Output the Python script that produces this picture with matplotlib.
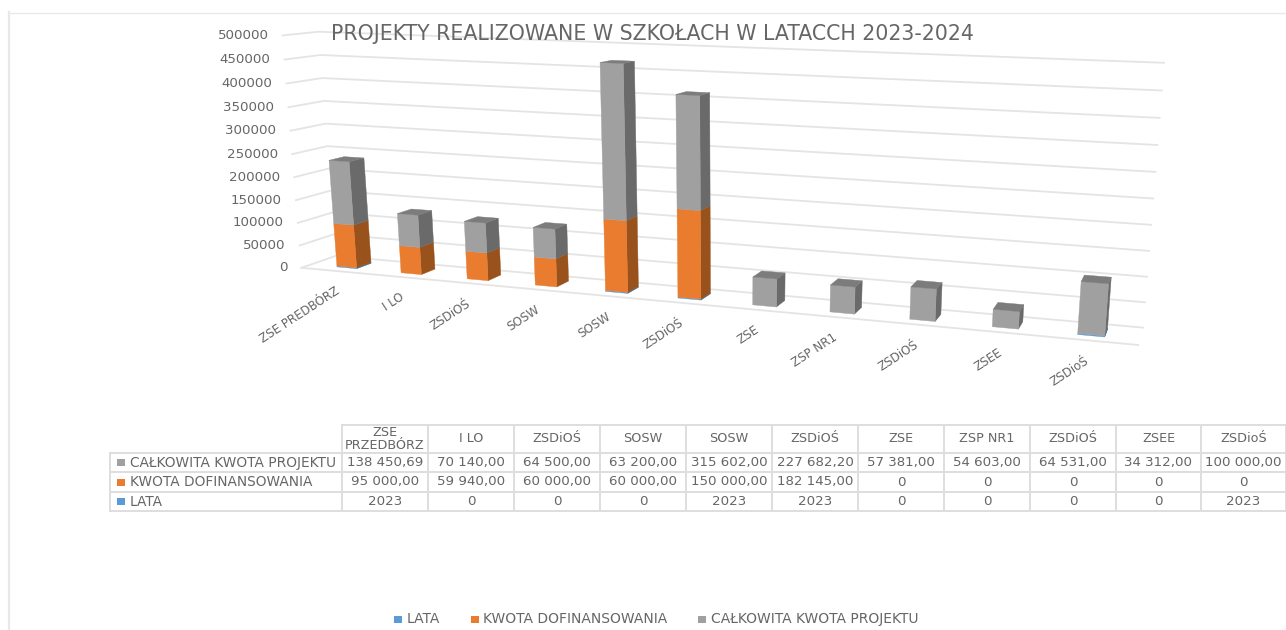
import numpy as np
import matplotlib
matplotlib.use("Agg")
import matplotlib.pyplot as plt
from matplotlib.patches import Polygon, Rectangle
from matplotlib.table import Table

# ---------- data ----------
categories = ["ZSE PREDBÓRZ", "I LO", "ZSDiOŚ", "SOSW", "SOSW", "ZSDiOŚ",
              "ZSE", "ZSP NR1", "ZSDiOŚ", "ZSEE", "ZSDioŚ"]
table_header = ["ZSE\nPRZEDBÓRZ", "I LO", "ZSDiOŚ", "SOSW", "SOSW", "ZSDiOŚ",
                "ZSE", "ZSP NR1", "ZSDiOŚ", "ZSEE", "ZSDioŚ"]
lata = [2023, 0, 0, 0, 2023, 2023, 0, 0, 0, 0, 2023]
dofinansowanie = [95000.00, 59940.00, 60000.00, 60000.00, 150000.00, 182145.00,
                  0, 0, 0, 0, 0]
calkowita = [138450.69, 70140.00, 64500.00, 63200.00, 315602.00, 227682.20,
             57381.00, 54603.00, 64531.00, 34312.00, 100000.00]
calkowita_labels = ["138 450,69", "70 140,00", "64 500,00", "63 200,00", "315 602,00",
                    "227 682,20", "57 381,00", "54 603,00", "64 531,00", "34 312,00",
                    "100 000,00"]
dofin_labels = ["95 000,00", "59 940,00", "60 000,00", "60 000,00", "150 000,00",
                "182 145,00", "0", "0", "0", "0", "0"]
series_names = ["LATA", "KWOTA DOFINANSOWANIA", "CAŁKOWITA KWOTA PROJEKTU"]
y_ticks = [0, 50000, 100000, 150000, 200000, 250000, 300000, 350000, 400000, 450000, 500000]
title = "PROJEKTY REALIZOWANE W SZKOŁACH W LATACCH 2023-2024"

# ---------- style ----------
FONT = "DejaVu Sans"
TXT = "#666666"
GRID = "#E4E4E4"
FACES = {  # front, side, top
    "LATA": ("#5B9BD5", "#35699A", "#45779F"),
    "KWOTA DOFINANSOWANIA": ("#E97C2E", "#99521B", "#B0622A"),
    "CAŁKOWITA KWOTA PROJEKTU": ("#A0A0A0", "#6A6A6A", "#7C7C7C"),
}
plt.rcParams["font.family"] = FONT
W, H = 1286, 630

# ---------- perspective camera, fitted to the reference's plot box ----------
XL, XR = -0.62, 10.55
XL_DRAW = -0.57
Z0, Z1 = 0.27, 0.71
cal = []
fl = [268, 246, 223, 201, 178, 155, 132, 108, 84, 60, 35]
flx = [305, 302, 300, 298, 296, 294, 292, 290, 287, 285, 282]
bl = [258, 235, 212, 190, 168, 146, 123, 100, 77, 53, 29]
blx = [336, 334, 332, 330, 328, 326, 324, 322, 320, 318, 317]
br = [328, 303, 278, 252, 226, 199, 173, 146, 118, 91, 63]
brx = [1141, 1143, 1146, 1148, 1150, 1153, 1155, 1158, 1160, 1163, 1165]
for k, v in enumerate(y_ticks):
    cal.append((XL, v, 0, flx[k], fl[k], 1))
    cal.append((XL, v, 1, blx[k], bl[k], 1))
    cal.append((XR, v, 1, brx[k], br[k], 1))
cal.append((XR, 0, 0, 1132, 345, 1))
base_x = [346, 411, 477, 545, 617, 690, 765, 843, 923, 1005, 1091]
base_y = [267.5, 273.5, 279, 286, 293, 299, 306, 313, 320, 328, 335]
for i, (bx, by) in enumerate(zip(base_x, base_y)):
    cal.append((i, 0, Z0, bx, by, 4))
cal += [(0, 235474, Z0, 337.5, 161, 6), (1, 130080, Z0, 407.5, 215, 4),
        (4, 467625, Z0, 611, 62.7, 4), (5, 411850, Z0, 688, 95, 4),
        (6, 57381, Z0, 765, 278, 4), (10, 102023, Z0, 1095, 283, 4)]
A, b = [], []
for x, v, z, u, w, wt in cal:
    y = v / 1e5
    A.append([wt * c for c in (x, y, z, 1, 0, 0, 0, 0, -u * x, -u * y, -u * z)]); b.append(wt * u)
    A.append([wt * c for c in (0, 0, 0, 0, x, y, z, 1, -w * x, -w * y, -w * z)]); b.append(wt * w)
p = np.linalg.lstsq(np.array(A, float), np.array(b, float), rcond=None)[0]
P = np.append(p, 1.0).reshape(3, 4)


def proj(x, v, z):
    h = P @ np.array([x, v / 1e5, z, 1.0])
    return h[0] / h[2], h[1] / h[2]


# ---------- canvas ----------
fig = plt.figure(figsize=(W / 100, H / 100), dpi=100, facecolor="white")
ax = fig.add_axes([0, 0, 1, 1])
ax.set_xlim(0, W)
ax.set_ylim(H, 0)
ax.axis("off")

# outer frame
ax.plot([8.5, 8.5], [12, H], color="#E8E8E8", lw=1.6, zorder=1)
ax.plot([8, W], [12.5, 12.5], color="#EAEAEA", lw=1.0, zorder=1)

# gridlines
for k, v in enumerate(y_ticks):
    pts = [proj(XL_DRAW, v, 0), proj(XL_DRAW, v, 1), proj(XR, v, 1)]
    ax.plot(*zip(*pts), color=GRID, lw=1.3, zorder=2, solid_joinstyle="miter")
    fx, fy = pts[0]
    ax.text(fx - 14, fy, str(v), ha="right", va="center", fontsize=9.6, color=TXT, zorder=6)
ax.plot(*zip(proj(XL_DRAW, 0, 0), proj(XR, 0, 0)), color=GRID, lw=1.3, zorder=2)

# stacked bars
BW = 0.31
order = [("LATA", lata), ("KWOTA DOFINANSOWANIA", dofinansowanie),
         ("CAŁKOWITA KWOTA PROJEKTU", calkowita)]
for i in range(len(categories)):
    x0, x1 = i - BW / 2, i + BW / 2
    bottom = 0.0
    for name, vals in order:
        val = vals[i]
        if val <= 0:
            continue
        top = bottom + val
        front, side, _ = FACES[name]
        ax.add_patch(Polygon([proj(x1, bottom, Z0), proj(x1, bottom, Z1),
                              proj(x1, top, Z1), proj(x1, top, Z0)],
                             closed=True, fc=side, ec=side, lw=0.3, zorder=4))
        ax.add_patch(Polygon([proj(x0, bottom, Z0), proj(x1, bottom, Z0),
                              proj(x1, top, Z0), proj(x0, top, Z0)],
                             closed=True, fc=front, ec=front, lw=0.3, zorder=4))
        bottom = top
    last = [n for n, vs in order if vs[i] > 0][-1]
    ax.add_patch(Polygon([proj(x0, bottom, Z0), proj(x1, bottom, Z0),
                          proj(x1, bottom, Z1), proj(x0, bottom, Z1)],
                         closed=True, fc=FACES[last][2], ec=FACES[last][2], lw=0.3, zorder=4))

# category labels
for i, c in enumerate(categories):
    ax_x, ax_y = proj(i, 0, 0)
    ax.text(ax_x - 3 - 0.25 * i, ax_y + 13.5, c, rotation=33, ha="right", va="top",
            rotation_mode="anchor", fontsize=8.6, color=TXT, zorder=6)

# title
ax.text(331, 34, title, ha="left", va="center", fontsize=14.8, color=TXT, zorder=6)

# data table
col_edges = [110, 342, 428, 514, 600, 686, 772, 858, 944, 1030, 1116, 1201, 1286]
row_edges = [425, 453, 472, 492, 511]
rows = [
    [""] + table_header,
    ["CAŁKOWITA KWOTA PROJEKTU"] + calkowita_labels,
    ["KWOTA DOFINANSOWANIA"] + dofin_labels,
    ["LATA"] + [str(v) for v in lata],
]
tbl = Table(ax, bbox=[col_edges[0] / W, 1 - row_edges[-1] / H,
                      (col_edges[-1] - col_edges[0]) / W,
                      (row_edges[-1] - row_edges[0]) / H])
for r, row in enumerate(rows):
    for c, t in enumerate(row):
        cell = tbl.add_cell(r, c, width=(col_edges[c + 1] - col_edges[c]) / W,
                            height=(row_edges[r + 1] - row_edges[r]) / H,
                            text=t, loc="left" if c == 0 else "center")
        cell.set_edgecolor("#DEDEDE")
        cell.set_linewidth(1.4)
        cell.set_facecolor("white")
        cell.get_text().set_fontsize(9.9 if c == 0 else (9.2 if r == 0 else 9.6))
        cell.get_text().set_color(TXT)
        cell.get_text().set_linespacing(1.0)
        if c == 0:
            cell.PAD = 0.085
        if r == 0 and c == 0:
            cell.visible_edges = ""
tbl.auto_set_font_size(False)
ax.add_table(tbl)
for r, name in zip([1, 2, 3], series_names[::-1]):
    yc = (row_edges[r] + row_edges[r + 1]) / 2
    ax.add_patch(Rectangle((117, yc - 3.5), 8, 7, fc=FACES[name][0], ec="none", zorder=8))

# legend
leg_y = 619
for name, kx, tx in zip(series_names, [394, 471, 698], [407, 483, 711]):
    ax.add_patch(Rectangle((kx, leg_y - 3.5), 8, 7, fc=FACES[name][0], ec="none", zorder=6))
    ax.text(tx, leg_y, name, ha="left", va="center", fontsize=10.0, color=TXT, zorder=6)

fig.savefig("out.png", dpi=100, facecolor="white")
